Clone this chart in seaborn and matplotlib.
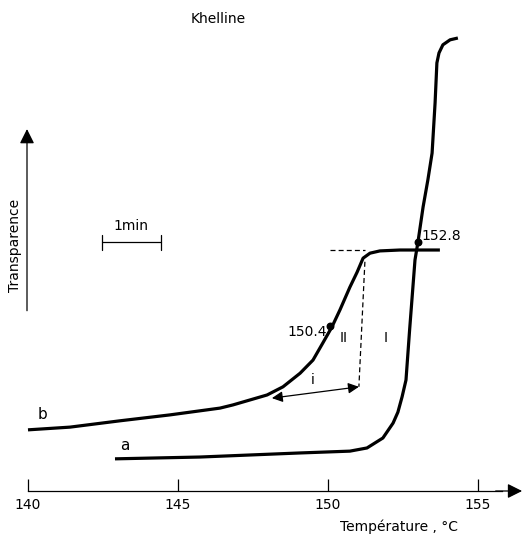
import numpy as np
import pandas as pd
import matplotlib
matplotlib.use("Agg")
import matplotlib.pyplot as plt
import seaborn as sns

# ---- data ----
temp_a = [142.91, 145.74, 149.08, 150.74, 151.31, 151.84, 152.18, 152.34, 152.48,
          152.61, 152.73, 152.91, 153.01, 153.18, 153.34, 153.48, 153.58, 153.64,
          153.71, 153.84, 154.08, 154.34]
trans_a = [7.1, 7.5, 8.4, 8.8, 9.5, 11.7, 15.0, 17.4, 20.8,
           24.5, 35.5, 51.0, 55.0, 62.7, 68.7, 74.6, 85.7, 94.5,
           96.7, 98.5, 99.6, 100.0]
temp_b = [140.01, 141.41, 143.08, 144.74, 146.41, 146.84, 147.98, 148.51, 149.08,
          149.51, 149.84, 150.14, 150.41, 150.74, 150.98, 151.18, 151.41, 151.74,
          152.41, 153.74]
trans_b = [13.5, 14.1, 15.5, 16.8, 18.3, 19.0, 21.2, 23.0, 26.0,
           28.9, 32.7, 36.2, 40.0, 45.0, 48.3, 51.4, 52.5, 53.0,
           53.2, 53.2]
x_ticks = [140, 145, 150, 155]
x_tick_labels = ["140", "145", "150", "155"]
point_temps = [150.08, 153.01]
point_trans = [36.4, 55.0]
point_labels = ["150.4", "152.8"]

sns.set_theme(style="white")
plt.rcParams['font.family'] = ['DejaVu Sans']
plt.rcParams['text.color'] = 'black'
plt.rcParams['xtick.color'] = 'black'
plt.rcParams['xtick.labelcolor'] = 'black'

fig = plt.figure(figsize=(5.22, 5.38), dpi=100)
ax = fig.add_axes([0, 0, 1, 1])

df_a = pd.DataFrame({"T": temp_a, "tr": trans_a})
df_b = pd.DataFrame({"T": temp_b, "tr": trans_b})
line_kw = dict(color="black", lw=2.3, sort=False, solid_joinstyle="round",
               solid_capstyle="butt")
sns.lineplot(data=df_a, x="T", y="tr", ax=ax, **line_kw)
sns.lineplot(data=df_b, x="T", y="tr", ax=ax, **line_kw)

ax.set_xlim(139.077, 156.477)
ax.set_ylim(-10.375, 108.39)

# points
ax.scatter(point_temps, point_trans, s=22, color="black", zorder=5)
ax.text(149.98, 35.2, point_labels[0], ha="right", va="center", fontsize=10, color="black")
ax.text(153.12, 56.2, point_labels[1], ha="left", va="center", fontsize=10, color="black")

# dashed construction lines
ax.plot([150.08, 151.24], [53.2, 53.2], ls=(0, (4, 2.5)), color="black", lw=0.9)
ax.plot([151.24, 151.04], [50.6, 23.0], ls=(0, (4, 2.5)), color="black", lw=0.9)
# double arrow i
ax.annotate("", xy=(148.14, 20.5), xytext=(151.04, 23.0),
            arrowprops=dict(arrowstyle="<|-|>", color="black", lw=0.9,
                            mutation_scale=16, shrinkA=0, shrinkB=0))
ax.text(149.51, 24.5, "i", ha="center", va="center", fontsize=10, color="black")
ax.text(150.54, 33.8, "II", ha="center", va="center", fontsize=10, color="black")
ax.text(151.94, 33.8, "I", ha="center", va="center", fontsize=10, color="black")
ax.text(143.24, 8.3, "a", ha="center", va="bottom", fontsize=11, color="black")
ax.text(140.51, 15.2, "b", ha="center", va="bottom", fontsize=11, color="black")

# scale bar 1 min
ax.plot([142.47, 144.44], [54.9, 54.9], color="black", lw=0.9)
ax.plot([142.47, 142.47], [53.2, 56.5], color="black", lw=0.9)
ax.plot([144.44, 144.44], [53.2, 56.5], color="black", lw=0.9)
ax.text(143.45, 57.0, "1min", ha="center", va="bottom", fontsize=10, color="black")

# x axis with arrow
for s in ["left", "right", "top"]:
    ax.spines[s].set_visible(False)
ax.spines["bottom"].set_position(("data", 0))
ax.spines["bottom"].set_bounds(140, 155.8)
ax.spines["bottom"].set_linewidth(0.9)
ax.spines["bottom"].set_color("black")
ax.annotate("", xy=(156.48, 0), xytext=(155.6, 0),
            arrowprops=dict(arrowstyle="-|>", color="black", lw=0.9,
                            mutation_scale=22, shrinkA=0, shrinkB=0))
ax.set_xticks(x_ticks)
ax.set_xticklabels(x_tick_labels)
ax.tick_params(axis="x", direction="in", length=8.5, width=0.9, color="black",
               pad=5, labelsize=10, bottom=True, labelcolor="black")
ax.set_yticks([])
ax.set_xlabel("")
ax.set_ylabel("")
ax.text(152.38, -7.9, "Température , °C", ha="center", va="center", fontsize=10, color="black")

# y axis arrow
ax.annotate("", xy=(139.977, 79.9), xytext=(139.977, 39.8),
            arrowprops=dict(arrowstyle="-|>", color="black", lw=0.9,
                            mutation_scale=22, shrinkA=0, shrinkB=0))
ax.text(139.577, 54.1, "Transparence", rotation=90, ha="center", va="center",
        fontsize=10, color="black")

ax.text(146.35, 104.2, "Khelline", ha="center", va="center", fontsize=10, color="black")

fig.savefig("out.png", dpi=100)
